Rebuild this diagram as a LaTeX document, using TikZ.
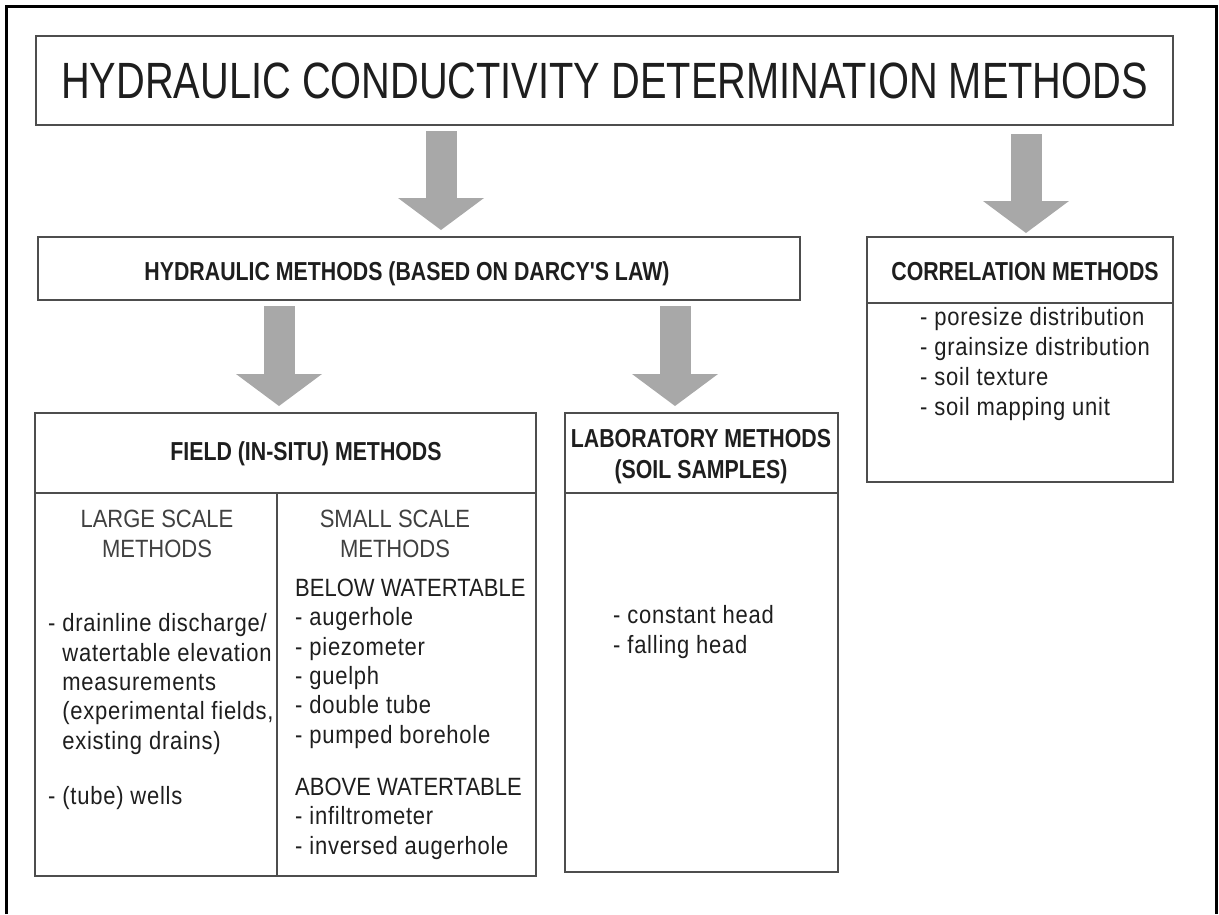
\documentclass[tikz,border=0pt]{standalone}
\usepackage{fontspec}
\setmainfont{Liberation Sans}
\newfontfamily\titlefont[FakeStretch=0.78]{Liberation Sans}
\newfontfamily\headfont[FakeStretch=0.82]{Liberation Sans}
\newfontfamily\bodyfont[FakeStretch=0.88]{Liberation Sans}
\newfontfamily\listfont[FakeStretch=0.88,LetterSpace=3]{Liberation Sans}
\usetikzlibrary{arrows.meta}

\definecolor{boxline}{HTML}{4D4D4D}
\definecolor{arrowgray}{HTML}{A8A8A8}
\definecolor{textgray}{HTML}{1E1E1E}

\tikzset{
  box/.style={draw=boxline, line width=2pt, inner sep=0pt},
  bigarrow/.style={draw=arrowgray, line width=31pt,
    -{Triangle[width=86pt,length=32pt,line width=0pt]},
    shorten <=5pt, shorten >=6pt},
  headtext/.style={font=\headfont\bfseries\fontsize{26}{31}\selectfont,
    text=textgray, inner sep=0pt, align=center},
  bodytext/.style={font=\listfont\fontsize{25}{29.3}\selectfont,
    text=textgray, inner sep=0pt, align=left},
  scaletext/.style={font=\bodyfont\fontsize{25}{29.3}\selectfont,
    text=black!75, inner sep=0pt, align=center}
}

\begin{document}
\begin{tikzpicture}[x=1pt, y=-1pt]

    \useasboundingbox (0,0) rectangle (1219,914);

    % Outer frame (open at the bottom)
    \draw[line width=3.5pt] (6.5,914) -- (6.5,6.5) -- (1216.5,6.5) -- (1216.5,914);

    % Title
    \node[box, minimum width=1137pt, minimum height=89pt,
          font=\titlefont\fontsize{51}{60}\selectfont, text=textgray] (title) at (604.5,80.5)
          {HYDRAULIC CONDUCTIVITY DETERMINATION METHODS};

    % Second level boxes
    \node[box, minimum width=762pt, minimum height=63pt] (hyd) at (419,268.5) {};
    \node[headtext, anchor=base] (hydlabel) at (407,280) {HYDRAULIC METHODS (BASED ON DARCY'S LAW)};

    \node[box, minimum width=306pt, minimum height=66pt] (corrhead) at (1020,270) {};
    \node[headtext, anchor=base] (corrlabel) at (1025,280) {CORRELATION METHODS};
    \node[box, minimum width=306pt, minimum height=179pt] (corrbody) at (1020,392.5) {};

    % Field methods
    \node[box, minimum width=501pt, minimum height=80pt] (fieldhead) at (285.5,453) {};
    \node[headtext, anchor=base] (fieldlabel) at (306,460) {FIELD (IN-SITU) METHODS};
    \node[box, minimum width=501pt, minimum height=383pt] (fieldbody) at (285.5,684.5) {};
    \coordinate (divider) at (277,0);
    \draw[boxline, line width=2pt] (divider |- fieldbody.north) -- (divider |- fieldbody.south);

    % Laboratory methods
    \node[box, minimum width=273pt, minimum height=80pt] (labhead) at (701.5,453) {};
    \node[headtext, anchor=base] (lablabel) at (701,478) {LABORATORY METHODS\\(SOIL SAMPLES)};
    \node[box, minimum width=273pt, minimum height=379pt] (labbody) at (701.5,682.5) {};

    % Arrows
    \coordinate (a1) at (441,0);
    \coordinate (a2) at (1026,0);
    \coordinate (a3) at (279,0);
    \coordinate (a4) at (675,0);
    \draw[bigarrow] (a1 |- title.south) -- (a1 |- hyd.north);
    \draw[bigarrow, shorten <=8pt, shorten >=3pt] (a2 |- title.south) -- (a2 |- corrhead.north);
    \draw[bigarrow] (a3 |- hyd.south) -- (a3 |- fieldhead.north);
    \draw[bigarrow] (a4 |- hyd.south) -- (a4 |- labhead.north);

    % Lists (base = baseline of the last line)
    \node[scaletext, anchor=base] (largelabel) at (157,557) {LARGE SCALE\\METHODS};
    \node[scaletext, anchor=base] (smalllabel) at (395,557) {SMALL SCALE\\METHODS};

    \node[bodytext, anchor=base west] (largelist) at (48,804)
        {- drainline discharge/\\
         \phantom{- }watertable elevation\\
         \phantom{- }measurements\\
         \phantom{- }(experimental fields,\\
         \phantom{- }existing drains)\\[25.7pt]
         - (tube) wells};

    \node[bodytext, anchor=base west] (smalllist) at (295,854)
        {{\bodyfont BELOW WATERTABLE}\\
         - augerhole\\
         - piezometer\\
         - guelph\\
         - double tube\\
         - pumped borehole\\[23pt]
         {\bodyfont ABOVE WATERTABLE}\\
         - infiltrometer\\
         - inversed augerhole};

    \node[bodytext, anchor=base west] (lablist) at (613,653)
        {- constant head\\
         - falling head};

    \node[bodytext, anchor=base west, font=\listfont\fontsize{25}{30}\selectfont] (corrlist) at (920,415)
        {- poresize distribution\\
         - grainsize distribution\\
         - soil texture\\
         - soil mapping unit};

\end{tikzpicture}
\end{document}
